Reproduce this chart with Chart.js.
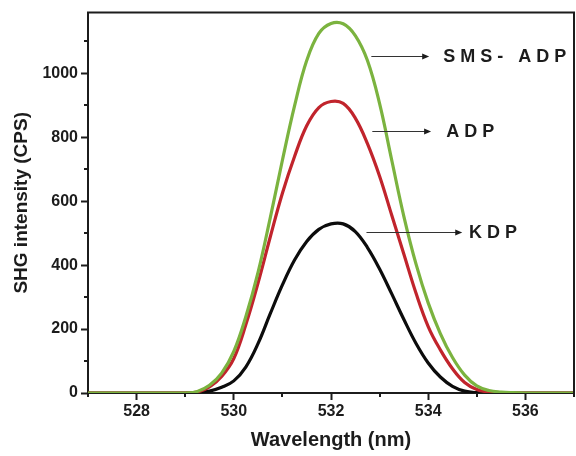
<!DOCTYPE html>
<html>
<head>
<meta charset="utf-8">
<script src="https://cdn.jsdelivr.net/npm/chart.js@4.4.1/dist/chart.umd.min.js"></script>
<style>
  html, body { margin: 0; padding: 0; background: #fff; }
  #wrap { width: 576px; height: 456px; }
</style>
</head>
<body>
<div id="wrap"><canvas id="shg_chart"></canvas></div>
<script>
'use strict';

// Wavelength (nm), sampled every 0.25 nm
const wavelength = [
  527, 527.25, 527.5, 527.75, 528, 528.25, 528.5, 528.75, 529, 529.25,
  529.5, 529.75, 530, 530.25, 530.5, 530.75, 531, 531.25, 531.5, 531.75,
  532, 532.25, 532.5, 532.75, 533, 533.25, 533.5, 533.75, 534, 534.25,
  534.5, 534.75, 535, 535.25, 535.5, 535.75, 536, 536.25, 536.5, 536.75, 537
];

// SHG intensity (CPS)
const kdp = [
  0, 0, 0, 0, 0, 0, 0, 0, 0, 1,
  6, 18, 38, 82, 155, 248, 338, 416, 474, 512,
  529, 529, 505, 455, 388, 310, 230, 155, 94, 50,
  21, 6, 1, 0, 0, 0, 0, 0, 0, 0, 0
];
const adp = [
  0, 0, 0, 0, 0, 0, 0, 0, 0, 3,
  19, 52, 108, 215, 345, 488, 625, 740, 836, 893,
  912, 906, 860, 780, 678, 556, 434, 312, 208, 135,
  76, 33, 11, 3, 1, 0, 0, 0, 0, 0, 0
];
const smsAdp = [
  0, 0, 0, 0, 0, 0, 0, 0, 0, 5,
  24, 62, 130, 240, 378, 548, 728, 898, 1040, 1125,
  1156, 1155, 1118, 1040, 905, 728, 552, 403, 282, 186,
  111, 56, 22, 8, 3, 1, 0, 0, 0, 0, 0
];

// Axis ranges
const xRange = [527, 537];
const yRange = [0, 1190];

// Callout labels: arrow from x0 to x1 at y, text starts at tx
const callouts = [
  { text: 'SMS- ADP', x0: 532.83, x1: 534.02, y: 1053, tx: 534.31 },
  { text: 'ADP',      x0: 532.85, x1: 534.06, y: 820,  tx: 534.37 },
  { text: 'KDP',      x0: 532.73, x1: 534.70, y: 503,  tx: 534.84 }
];

const ink = '#1c1c1c';
const fontFamily = '"Liberation Sans", Arial, sans-serif';

function points(ys) {
  return wavelength.map((x, i) => ({ x: x, y: ys[i] }));
}

// frame on top/right, minor ticks, arrows with labels
const decorations = {
  id: 'decorations',
  afterDraw(chart) {
    const { ctx, chartArea: a, scales: { x, y } } = chart;
    ctx.save();
    ctx.strokeStyle = ink;
    ctx.lineWidth = 2;
    ctx.beginPath();
    ctx.moveTo(a.left - 1, a.top);
    ctx.lineTo(a.right, a.top);
    ctx.lineTo(a.right, a.bottom);
    ctx.stroke();

    // minor ticks
    ctx.beginPath();
    y.ticks.forEach(t => {
      if (t.value % 200 !== 0) {
        const py = Math.round(y.getPixelForValue(t.value));
        ctx.moveTo(a.left, py);
        ctx.lineTo(a.left - 4, py);
      }
    });
    x.ticks.forEach(t => {
      if (t.value % 2 !== 0) {
        const px = Math.round(x.getPixelForValue(t.value));
        ctx.moveTo(px, a.bottom);
        ctx.lineTo(px, a.bottom + 4);
      }
    });
    ctx.stroke();

    // arrows and names
    ctx.fillStyle = ink;
    ctx.strokeStyle = '#333';
    ctx.font = 'bold 18px ' + fontFamily;
    ctx.textBaseline = 'middle';
    ctx.letterSpacing = '5px';
    callouts.forEach(c => {
      const x0 = x.getPixelForValue(c.x0);
      const x1 = x.getPixelForValue(c.x1);
      const py = Math.round(y.getPixelForValue(c.y)) + 0.5;
      ctx.lineWidth = 1.2;
      ctx.beginPath();
      ctx.moveTo(x0, py);
      ctx.lineTo(x1 - 5, py);
      ctx.stroke();
      ctx.beginPath();
      ctx.moveTo(x1, py);
      ctx.lineTo(x1 - 7, py - 3);
      ctx.lineTo(x1 - 7, py + 3);
      ctx.closePath();
      ctx.fill();
      ctx.fillText(c.text, x.getPixelForValue(c.tx), py + 1);
    });
    ctx.restore();
  }
};

const shg = document.querySelector('#shg_chart');
new Chart(shg, {
  type: 'line',
  data: {
    datasets: [{
      label: 'SMS- ADP',
      data: points(smsAdp),
      borderColor: '#7bb33f',
      borderWidth: 3.2,
      order: 0
    }, {
      label: 'ADP',
      data: points(adp),
      borderColor: '#c1242c',
      borderWidth: 3.2,
      order: 1
    }, {
      label: 'KDP',
      data: points(kdp),
      borderColor: '#0c0c0c',
      borderWidth: 3.2,
      order: 2
    }]
  },
  options: {
    responsive: true,
    maintainAspectRatio: false,
    animation: false,
    elements: {
      point: { radius: 0 },
      line: { tension: 0.4 }
    },
    layout: {
      padding: { top: 11, right: 1, left: 0, bottom: 0 }
    },
    plugins: {
      legend: { display: false },
      tooltip: { enabled: false }
    },
    scales: {
      x: {
        type: 'linear',
        min: xRange[0],
        max: xRange[1],
        afterFit: scale => { scale.height = 63; },
        border: { color: ink, width: 2 },
        grid: {
          drawOnChartArea: false,
          tickLength: 7,
          tickWidth: 2,
          tickColor: c => (c.tick && c.tick.value % 2 === 0) ? ink : 'rgba(0,0,0,0)'
        },
        ticks: {
          stepSize: 1,
          padding: 2,
          color: ink,
          font: { family: fontFamily, size: 16, weight: 'bold' },
          callback: v => (v % 2 === 0 ? v : '')
        },
        title: {
          display: true,
          text: 'Wavelength (nm)',
          color: ink,
          padding: { top: 0 },
          font: { family: fontFamily, size: 20, weight: 'bold' }
        }
      },
      y: {
        min: yRange[0],
        max: yRange[1],
        afterFit: scale => { scale.width = 88; },
        afterBuildTicks: scale => {
          scale.ticks = scale.ticks.filter(t => t.value % 50 === 0);
        },
        border: { color: ink, width: 2 },
        grid: {
          drawOnChartArea: false,
          tickLength: 7,
          tickWidth: 2,
          tickColor: c => (c.tick && c.tick.value % 200 === 0) ? ink : 'rgba(0,0,0,0)'
        },
        ticks: {
          stepSize: 50,
          padding: 3,
          color: ink,
          font: { family: fontFamily, size: 16, weight: 'bold' },
          callback: v => (v % 200 === 0 ? v : '')
        },
        title: {
          display: true,
          text: 'SHG intensity (CPS)',
          color: ink,
          padding: { top: 10, bottom: 0 },
          font: { family: fontFamily, size: 19, weight: 'bold' }
        }
      }
    }
  },
  plugins: [decorations]
});
</script>
</body>
</html>
